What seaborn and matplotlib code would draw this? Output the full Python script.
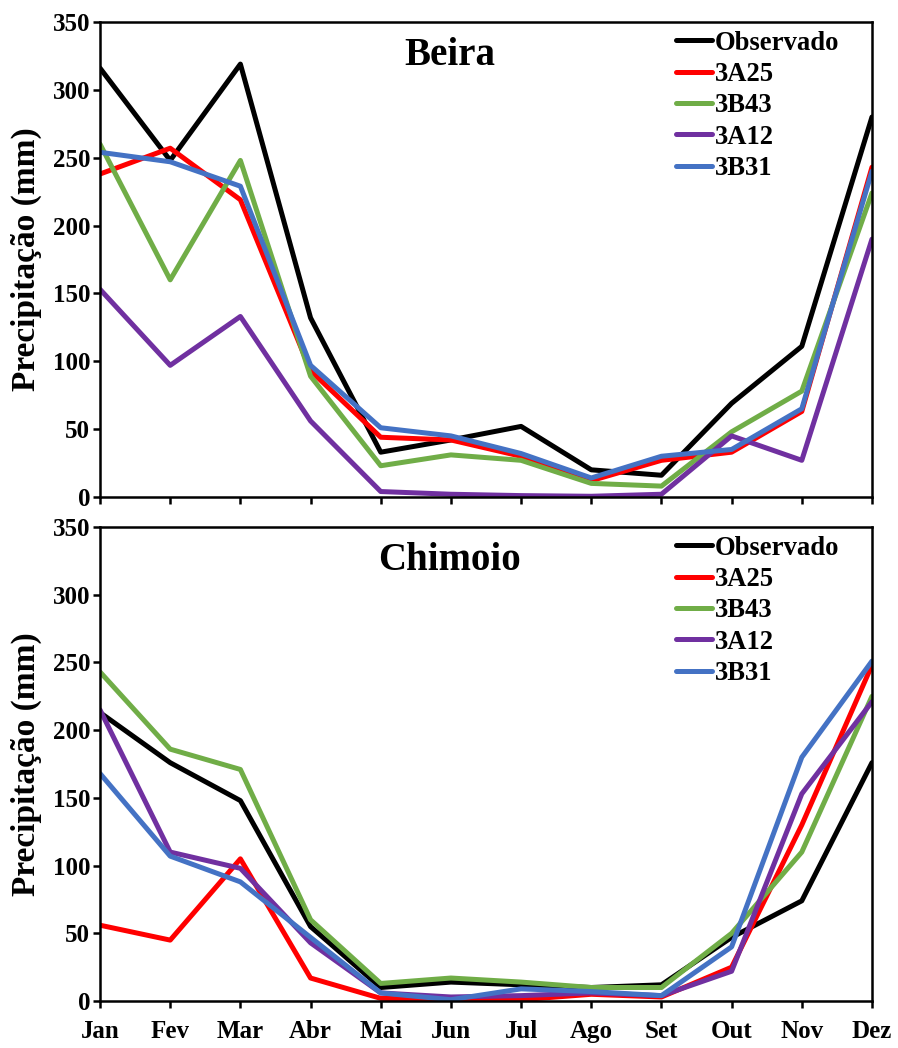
import matplotlib
matplotlib.use("Agg")
import matplotlib.pyplot as plt
import seaborn as sns
import pandas as pd

months = ["Jan", "Fev", "Mar", "Abr", "Mai", "Jun", "Jul", "Ago", "Set", "Out", "Nov", "Dez"]
series_names = ["Observado", "3A25", "3B43", "3A12", "3B31"]
colors = ["#000000", "#FF0000", "#70AD47", "#7030A0", "#4472C4"]

beira_obs = [316, 248, 319, 132, 33, 42, 52, 20, 16, 69, 111, 280]
beira_3a25 = [238, 257, 219, 93, 44, 42, 30, 12, 27, 33, 63, 243]
beira_3b43 = [260, 160, 248, 89, 23, 31, 27, 10, 8, 48, 78, 224]
beira_3a12 = [153, 97, 133, 56, 4, 2, 1, 0.5, 2, 45, 27, 190]
beira_3b31 = [254, 247, 229, 97, 51, 45, 32, 14, 30, 35, 65, 240]

chimoio_obs = [213, 176, 148, 55, 10, 14, 12, 10, 12, 47, 74, 176]
chimoio_3a25 = [56, 45, 105, 17, 2, 1, 1, 5, 3, 25, 130, 248]
chimoio_3b43 = [243, 186, 171, 60, 13, 17, 14, 10, 10, 50, 110, 225]
chimoio_3a12 = [215, 110, 98, 43, 6, 3, 4, 6, 4, 22, 153, 221]
chimoio_3b31 = [168, 107, 88, 47, 6, 1, 9, 7, 4, 40, 180, 251]

yticks = [0, 50, 100, 150, 200, 250, 300, 350]

stations = [
    ("Beira", [beira_obs, beira_3a25, beira_3b43, beira_3a12, beira_3b31]),
    ("Chimoio", [chimoio_obs, chimoio_3a25, chimoio_3b43, chimoio_3a12, chimoio_3b31]),
]

sns.set_style("ticks")
plt.rcParams["font.family"] = ["Liberation Serif", "DejaVu Serif"]
plt.rcParams["font.weight"] = "bold"
plt.rcParams["text.color"] = "black"
plt.rcParams["axes.labelcolor"] = "black"
plt.rcParams["xtick.color"] = "black"
plt.rcParams["ytick.color"] = "black"
plt.rcParams["xtick.labelcolor"] = "black"
plt.rcParams["ytick.labelcolor"] = "black"

fig = plt.figure(figsize=(8.98, 10.48), dpi=100)
positions = [
    [0.1114, 0.5258, 0.8596, 0.4532],
    [0.1114, 0.0448, 0.8596, 0.4523],
]

for i, (name, vals) in enumerate(stations):
    ax = fig.add_axes(positions[i])
    rows = []
    for s, v in zip(series_names, vals):
        for m, y in zip(months, v):
            rows.append({"mes": m, "valor": y, "serie": s})
    df = pd.DataFrame(rows)
    sns.lineplot(data=df, x="mes", y="valor", hue="serie", hue_order=series_names,
                 palette=colors, sort=False, linewidth=3.6, ax=ax, legend=True)
    ax.set_xlim(0, len(months) - 1)
    ax.set_ylim(0, 350)
    ax.set_yticks(yticks)
    ax.set_xticks(range(len(months)))
    if i == 1:
        ax.set_xticklabels(months, fontsize=18, fontweight="bold", color="black")
    else:
        ax.set_xticklabels([])
    ax.set_yticklabels([str(t) for t in yticks], fontsize=18, fontweight="bold", color="black")
    ax.set_xlabel("")
    ax.set_ylabel("Precipitação (mm)", fontsize=24, fontweight="bold", labelpad=8, color="black")
    for sp in ax.spines.values():
        sp.set_linewidth(1.8)
        sp.set_color("black")
        sp.set_visible(True)
    ax.tick_params(axis="y", direction="out", length=5, width=1.8, color="black", pad=2)
    ax.tick_params(axis="x", direction="out", length=5, width=1.8, color="black", pad=9)
    ax.text(0.453, 0.93, name, transform=ax.transAxes, ha="center", va="center",
            fontsize=28, fontweight="bold", color="black")
    leg = ax.legend(loc="upper left", bbox_to_anchor=(0.746, 0.982), frameon=False,
                    fontsize=19.2, handlelength=1.37, handletextpad=0.1,
                    labelspacing=0.24, borderpad=0, borderaxespad=0)
    for t in leg.get_texts():
        t.set_fontweight("bold")
        t.set_color("black")
    for h in leg.get_lines():
        h.set_linewidth(3.6)

fig.savefig("out.png", dpi=100)
